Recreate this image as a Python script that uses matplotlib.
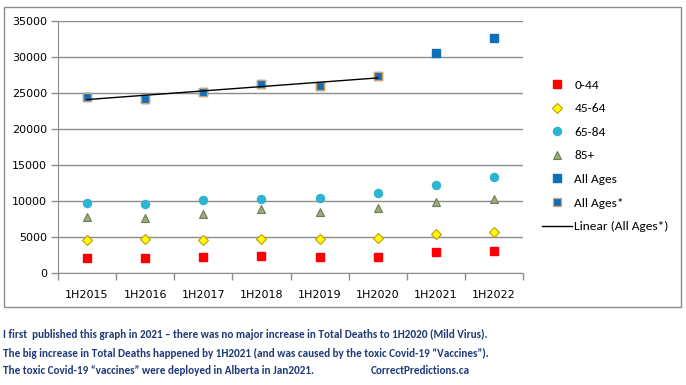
import numpy as np
import matplotlib
matplotlib.use("Agg")
import matplotlib.pyplot as plt
from matplotlib.patches import Rectangle

categories = ["1H2015", "1H2016", "1H2017", "1H2018", "1H2019", "1H2020", "1H2021", "1H2022"]
age_0_44 = [2040, 2040, 2180, 2320, 2180, 2180, 2870, 3060]
age_45_64 = [4540, 4680, 4540, 4680, 4680, 4810, 5370, 5650]
age_65_84 = [9760, 9580, 10140, 10280, 10460, 11150, 12260, 13380]
age_85p = [7820, 7690, 8240, 8840, 8520, 9070, 9900, 10280]
all_ages = [24500, 24200, 25150, 26300, 26000, 27400, 30600, 32680]
all_ages_star = [24500, 24200, 25150, 26300, 26000, 27400]
y_ticks = [0, 5000, 10000, 15000, 20000, 25000, 30000, 35000]

caption = [
    "I first  published this graph in 2021 \u2013 there was no major increase in Total Deaths to 1H2020 (Mild Virus).",
    "The big increase in Total Deaths happened by 1H2021 (and was caused by the toxic Covid-19 \u201cVaccines\u201d).",
    "The toxic Covid-19 \u201cvaccines\u201d were deployed in Alberta in Jan2021.",
]
signature = "CorrectPredictions.ca"

fig = plt.figure(figsize=(6.86, 3.85), dpi=100)
fig.patch.set_facecolor("white")
W, H = 686, 385

# chart border
fig.patches.append(Rectangle((4 / W, 1 - 307 / H), 677 / W, 300 / H, transform=fig.transFigure,
                             fill=False, edgecolor="#8c8c8c", linewidth=1.0))

ax = fig.add_axes([58 / W, 1 - 273 / H, 465 / W, 252 / H])
x = np.arange(1, len(categories) + 1)
ms = 5.2
ax.plot(x, age_0_44, ls="none", marker="s", ms=ms, color="#ff0000", mec="#ff0000", label="0-44", zorder=3)
ax.plot(x, age_45_64, ls="none", marker="D", ms=ms - 0.6, color="#ffff00", mec="#c8960a", mew=0.8, label="45-64", zorder=3)
ax.plot(x, age_65_84, ls="none", marker="o", ms=ms + 0.6, color="#2eb4d0", mec="#2eb4d0", label="65-84", zorder=3)
ax.plot(x, age_85p, ls="none", marker="^", ms=ms + 0.8, color="#9bab7b", mec="#6e7c57", mew=0.8, label="85+", zorder=3)
ax.plot(x, all_ages, ls="none", marker="s", ms=ms + 0.6, color="#0f6fb8", mec="#0f6fb8", label="All Ages", zorder=3)
xs = np.arange(1, len(all_ages_star) + 1)
ax.plot(xs, all_ages_star, ls="none", marker="s", ms=ms + 0.6, color="#0f6fb8", mec="#e0a060", mew=0.9, label="All Ages*", zorder=4)
coef = np.polyfit(xs, all_ages_star, 1)
ax.plot(xs, np.polyval(coef, xs), color="black", lw=1.0, label="Linear (All Ages*)", zorder=5)

ax.set_xlim(0.5, len(categories) + 0.5)
ax.set_ylim(0, 35000)
ax.set_yticks(y_ticks)
ax.set_yticklabels([str(v) for v in y_ticks])
ax.set_xticks(x)
ax.set_xticklabels(categories)
ax.set_xticks(np.arange(0.5, len(categories) + 1, 1), minor=True)
ax.tick_params(axis="x", which="major", length=0, pad=12, labelsize=8, colors="black")
ax.tick_params(axis="x", which="minor", length=5, direction="out", color="#8c8c8c", width=1)
ax.tick_params(axis="y", length=5, direction="out", color="#8c8c8c", width=1, labelsize=8, pad=3)
ax.grid(axis="y", color="#8c8c8c", lw=1.0)
ax.set_axisbelow(True)
for s in ["top", "right"]:
    ax.spines[s].set_visible(False)
ax.spines["left"].set_color("#8c8c8c")
ax.spines["bottom"].set_color("#8c8c8c")

cal = ["Carlito", "Open Sans", "DejaVu Sans"]
leg = fig.legend(loc="upper left", bbox_to_anchor=(537 / W, 1 - 74 / H), frameon=False,
                 prop={"family": cal, "size": 9.6}, handlelength=2.2, handletextpad=0.2,
                 labelspacing=0.92, borderaxespad=0)

# caption, fitted to the reference width of the first line
ys = [334, 353, 371]
texts = []
for t, yy in zip(caption, ys):
    texts.append(fig.text(3 / W, 1 - yy / H, t, fontsize=10, fontweight="bold", color="#1f3a78",
                          family=cal, va="center", ha="left"))
sig = fig.text(371 / W, 1 - ys[2] / H, signature, fontsize=10, fontweight="bold", color="#1f3a78",
               family=cal, va="center", ha="left")
fig.canvas.draw()
r = fig.canvas.get_renderer()
w0 = texts[0].get_window_extent(r).width
scale = 484.0 / w0
for t in texts + [sig]:
    t.set_fontsize(10 * scale)

fig.savefig("out.png", dpi=100)
